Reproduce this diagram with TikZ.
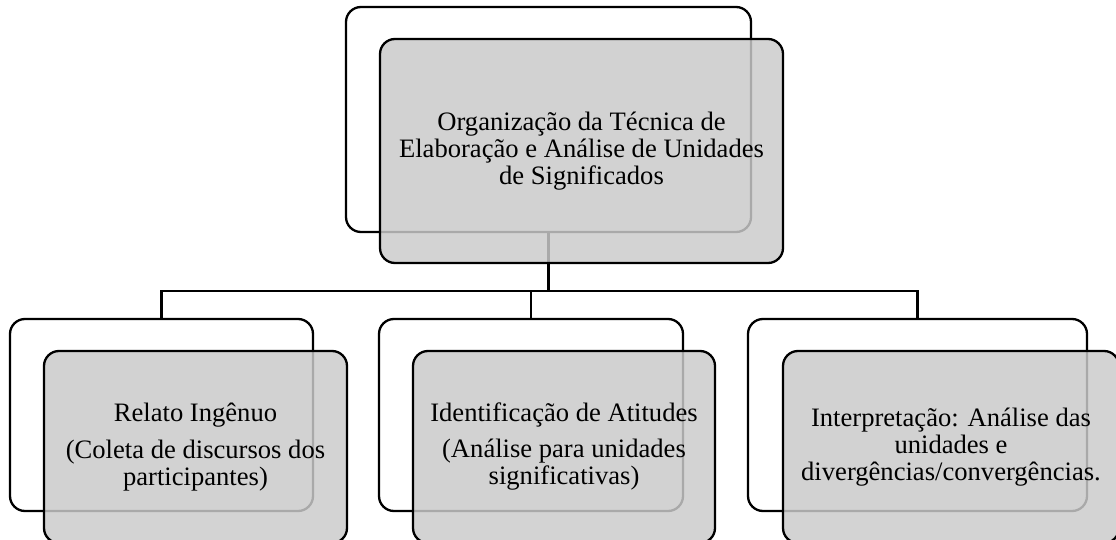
\documentclass[tikz,border=0pt]{standalone}
\usepackage{fontspec}
\setmainfont{Liberation Serif}
\definecolor{boxgray}{RGB}{202,202,202}
\begin{document}
\begin{tikzpicture}[x=1pt,y=-1pt,
  backbox/.style={draw=black,line width=2.3pt,fill=white,rounded corners=15pt,inner sep=0pt,shape=rectangle},
  frontbox/.style={draw=black,line width=2.3pt,fill=boxgray,fill opacity=0.84,text opacity=1,
    rounded corners=15pt,align=center,inner sep=0pt,shape=rectangle,
    font=\fontsize{26.6}{27}\selectfont},
  link/.style={line width=2.3pt,draw=black}]
\useasboundingbox (0,0) rectangle (1116,540);
\clip (0,0) rectangle (1116,540);
% back boxes
\node[backbox,minimum width=405pt,minimum height=225pt] (tb) at (548.5,119.5) {};
\node[backbox,minimum width=303pt,minimum height=192pt] (bl) at (161.5,415) {};
\node[backbox,minimum width=304pt,minimum height=192pt] (bm) at (531,415) {};
\node[backbox,minimum width=339pt,minimum height=192pt] (br) at (917.5,415) {};
% connectors
\coordinate (hub) at (548.5,291);
\draw[link] (tb.south) -- (hub);
\draw[link] (hub) -| (bl.north);
\draw[link] (hub) -| (br.north);
\draw[link] (bm.north) |- (hub);
% front boxes
\node[frontbox,minimum width=403pt,minimum height=224pt] (tf) at (581.5,151)
  {Organização da Técnica de\\Elaboração e Análise de Unidades\\de Significados};
\node[frontbox,minimum width=303pt,minimum height=192pt] (fl) at (195.5,447)
  {Relato Ingênuo\\[10pt](Coleta de discursos dos\\participantes)};
\node[frontbox,minimum width=302pt,minimum height=192pt] (fm) at (564,447)
  {Identificação de Atitudes\\[9pt](Análise para unidades\\significativas)};
\node[frontbox,minimum width=336pt,minimum height=192pt] (fr) at (951,447)
  {Interpretação: Análise das\\unidades e\\divergências/convergências.};
\end{tikzpicture}
\end{document}
